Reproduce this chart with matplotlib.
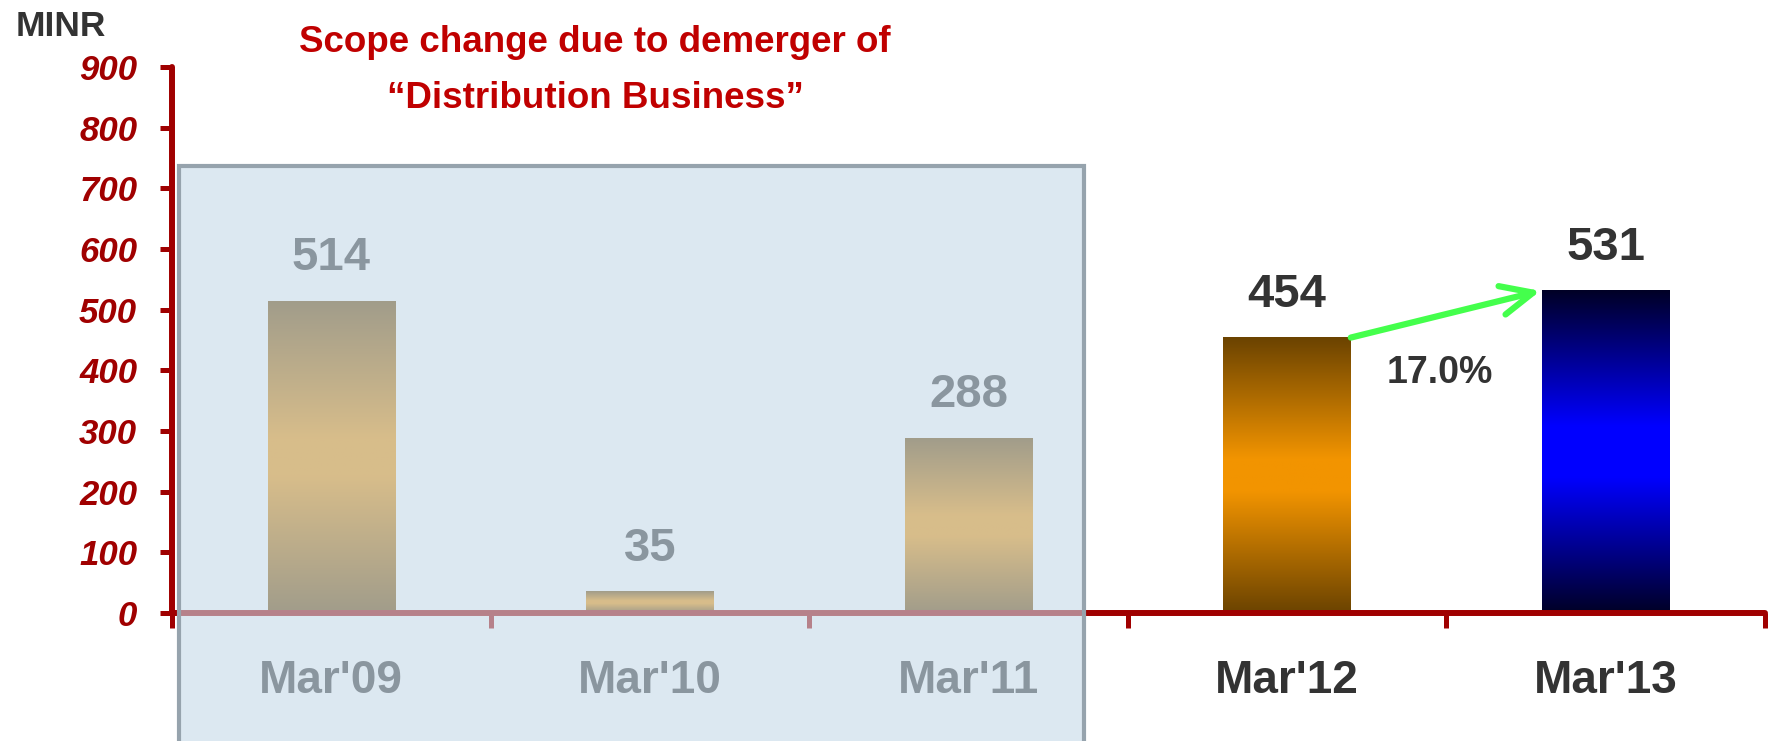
import numpy as np
import matplotlib
matplotlib.use('Agg')
import matplotlib.pyplot as plt
from matplotlib.colors import LinearSegmentedColormap
from matplotlib.patches import Rectangle

plt.rcParams['font.family'] = ['Liberation Sans', 'DejaVu Sans']

###
# data
###
categories = ["Mar'09", "Mar'10", "Mar'11", "Mar'12", "Mar'13"]
values = [514, 35, 288, 454, 531]
y_ticks = [0, 100, 200, 300, 400, 500, 600, 700, 800, 900]
growth_label = "17.0%"
unit_label = "MINR"
title_lines = ["Scope change due to demerger of", "\u201cDistribution Business\u201d"]
n_old = 3  # years before the demerger, greyed out by the box

RED = '#a00000'
DARK = '#333333'
W, H = 1771, 741

fig = plt.figure(figsize=(W / 100, H / 100), dpi=100)
ax = fig.add_axes([172 / W, 128 / H, (1765 - 172) / W, (674 - 128) / H])

x = np.arange(len(categories))
bar_w = 0.4
bars = ax.bar(x, values, width=bar_w, color='none', zorder=2)

# vertical gradient fills, dark at both ends, bright band in the middle
orange = LinearSegmentedColormap.from_list(
    'orange', [(0, '#6b4300'), (0.44, '#f29400'), (0.56, '#f29400'), (1, '#6b4300')])
blue = LinearSegmentedColormap.from_list(
    'blue', [(0, '#000026'), (0.42, '#0000ff'), (0.58, '#0000ff'), (1, '#000026')])
cmaps = [orange, orange, orange, orange, blue]
grad = np.linspace(0, 1, 256).reshape(-1, 1)
for bar, cmap in zip(bars, cmaps):
    x0, y0 = bar.get_x(), bar.get_y()
    w, h = bar.get_width(), bar.get_height()
    ax.imshow(grad, cmap=cmap, extent=[x0, x0 + w, y0, y0 + h],
              aspect='auto', origin='lower', zorder=2)

# value labels
for xi, v in zip(x, values):
    ax.annotate(str(v), (xi, v), xytext=(0, 31), textcoords='offset points',
                ha='center', va='center', fontsize=34, fontweight='bold', color=DARK)

# growth arrow between the last two bars
ax.annotate('', xy=(x[4] - bar_w / 2 - 0.005, values[4]),
            xytext=(x[3] + bar_w / 2, values[3]),
            arrowprops=dict(arrowstyle='->,head_length=2.3,head_width=1.05',
                            color='#44ff4c', lw=4.5, shrinkA=0, shrinkB=0,
                            capstyle='round', joinstyle='round'),
            zorder=4)
ax.text((x[3] + x[4]) / 2 - 0.02, 396, growth_label, ha='center', va='center',
        fontsize=27, fontweight='bold', color=DARK)

# axes styling
ax.set_xlim(-0.5, len(categories) - 0.5)
ax.set_ylim(0, 900)
ax.set_yticks(y_ticks)
ax.set_xticks(x)
ax.set_xticklabels(categories)
ax.set_xticks(np.arange(-0.5, len(categories)), minor=True)
for s in ['top', 'right']:
    ax.spines[s].set_visible(False)
for s in ['left', 'bottom']:
    ax.spines[s].set_color(RED)
    ax.spines[s].set_linewidth(4.3)
    ax.spines[s].set_capstyle('round')
ax.tick_params(axis='y', direction='out', length=9, width=3.6, color=RED,
               pad=16, labelsize=25, labelcolor=RED)
ax.tick_params(axis='x', which='major', length=0, pad=33, labelsize=33, labelcolor=DARK)
ax.tick_params(axis='x', which='minor', direction='out', length=11, width=3.6, color=RED)
for lbl in ax.get_yticklabels():
    lbl.set_fontweight('bold')
    lbl.set_fontstyle('italic')
for lbl in ax.get_xticklabels():
    lbl.set_fontweight('bold')

# translucent box over the pre-demerger years
box = Rectangle((179 / W, -0.05), (1084 - 179) / W, (741 - 166) / H + 0.05,
                transform=fig.transFigure, facecolor=(198 / 255, 217 / 255, 232 / 255, 0.6),
                edgecolor='#96a3ad', linewidth=3, zorder=5)
fig.patches.append(box)

fig.text(16 / W, 1 - 26 / H, unit_label, ha='left', va='center',
         fontsize=25.5, fontweight='bold', color=DARK)
fig.text(595 / W, 1 - 43 / H, title_lines[0], ha='center', va='center',
         fontsize=26.5, fontweight='bold', color='#c00000')
fig.text(595 / W, 1 - 98 / H, title_lines[1], ha='center', va='center',
         fontsize=26.5, fontweight='bold', color='#c00000')

fig.savefig('out.png', dpi=100)
